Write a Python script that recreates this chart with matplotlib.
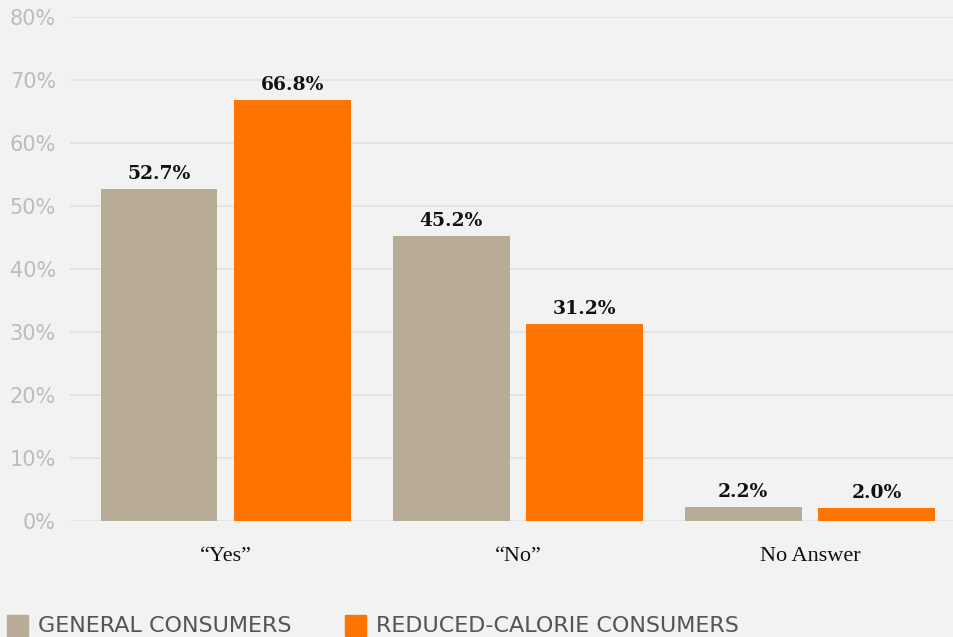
import matplotlib
matplotlib.use("Agg")
import matplotlib.pyplot as plt
import numpy as np
from matplotlib.patches import Rectangle

categories = ["\u201cYes\u201d", "\u201cNo\u201d", "No Answer"]
general = [52.7, 45.2, 2.2]
reduced = [66.8, 31.2, 2.0]
series_names = ["GENERAL CONSUMERS", "REDUCED-CALORIE CONSUMERS"]
yticks = [0, 10, 20, 30, 40, 50, 60, 70, 80]

BG = "#f2f2f2"
C_GEN = "#b8ac96"
C_RED = "#ff7300"

fig = plt.figure(figsize=(9.54, 6.37), dpi=100, facecolor=BG)
W, H = 954, 637
ax = fig.add_axes([70 / W, 1 - 521 / H, (954 - 70) / W, (521 - 17) / H])
ax.set_facecolor(BG)

x = np.arange(len(categories))
bw = 0.40
off = 0.229
b1 = ax.bar(x - off, general, bw, color=C_GEN, zorder=3)
b2 = ax.bar(x + off, reduced, bw, color=C_RED, zorder=3)

for bars, vals in ((b1, general), (b2, reduced)):
    for b, v in zip(bars, vals):
        ax.text(b.get_x() + b.get_width() / 2, v + 1.6, f"{v:.1f}%",
                ha="center", va="baseline", fontsize=13.5, fontweight="bold",
                family="DejaVu Serif", color="#111111")

ax.set_ylim(0, 80)
ax.set_xlim(-0.534, 2.493)
ax.set_yticks(yticks)
ax.set_yticklabels([f"{t}%" for t in yticks], fontsize=15, color="#bcbcbc",
                   family="DejaVu Sans")
ax.yaxis.grid(True, color="#e2e2e2", linewidth=1.2, zorder=0)
ax.tick_params(axis="y", length=0, pad=10)
ax.set_xticks(x)
ax.set_xticklabels(categories, fontsize=16, family="Liberation Serif", color="#111111")
ax.tick_params(axis="x", length=0, pad=19)
for s in ax.spines.values():
    s.set_visible(False)

# legend
for (xs, xt, col, name) in ((7, 38, C_GEN, series_names[0]), (345, 376, C_RED, series_names[1])):
    fig.patches.append(Rectangle((xs / W, 1 - 636 / H), 21 / W, 21 / H,
                                 transform=fig.transFigure, color=col))
    fig.text(xt / W, 1 - 626 / H, name, fontsize=16, color="#555555",
             va="center", ha="left", family="DejaVu Sans")

fig.savefig("out.png", dpi=100, facecolor=BG)
